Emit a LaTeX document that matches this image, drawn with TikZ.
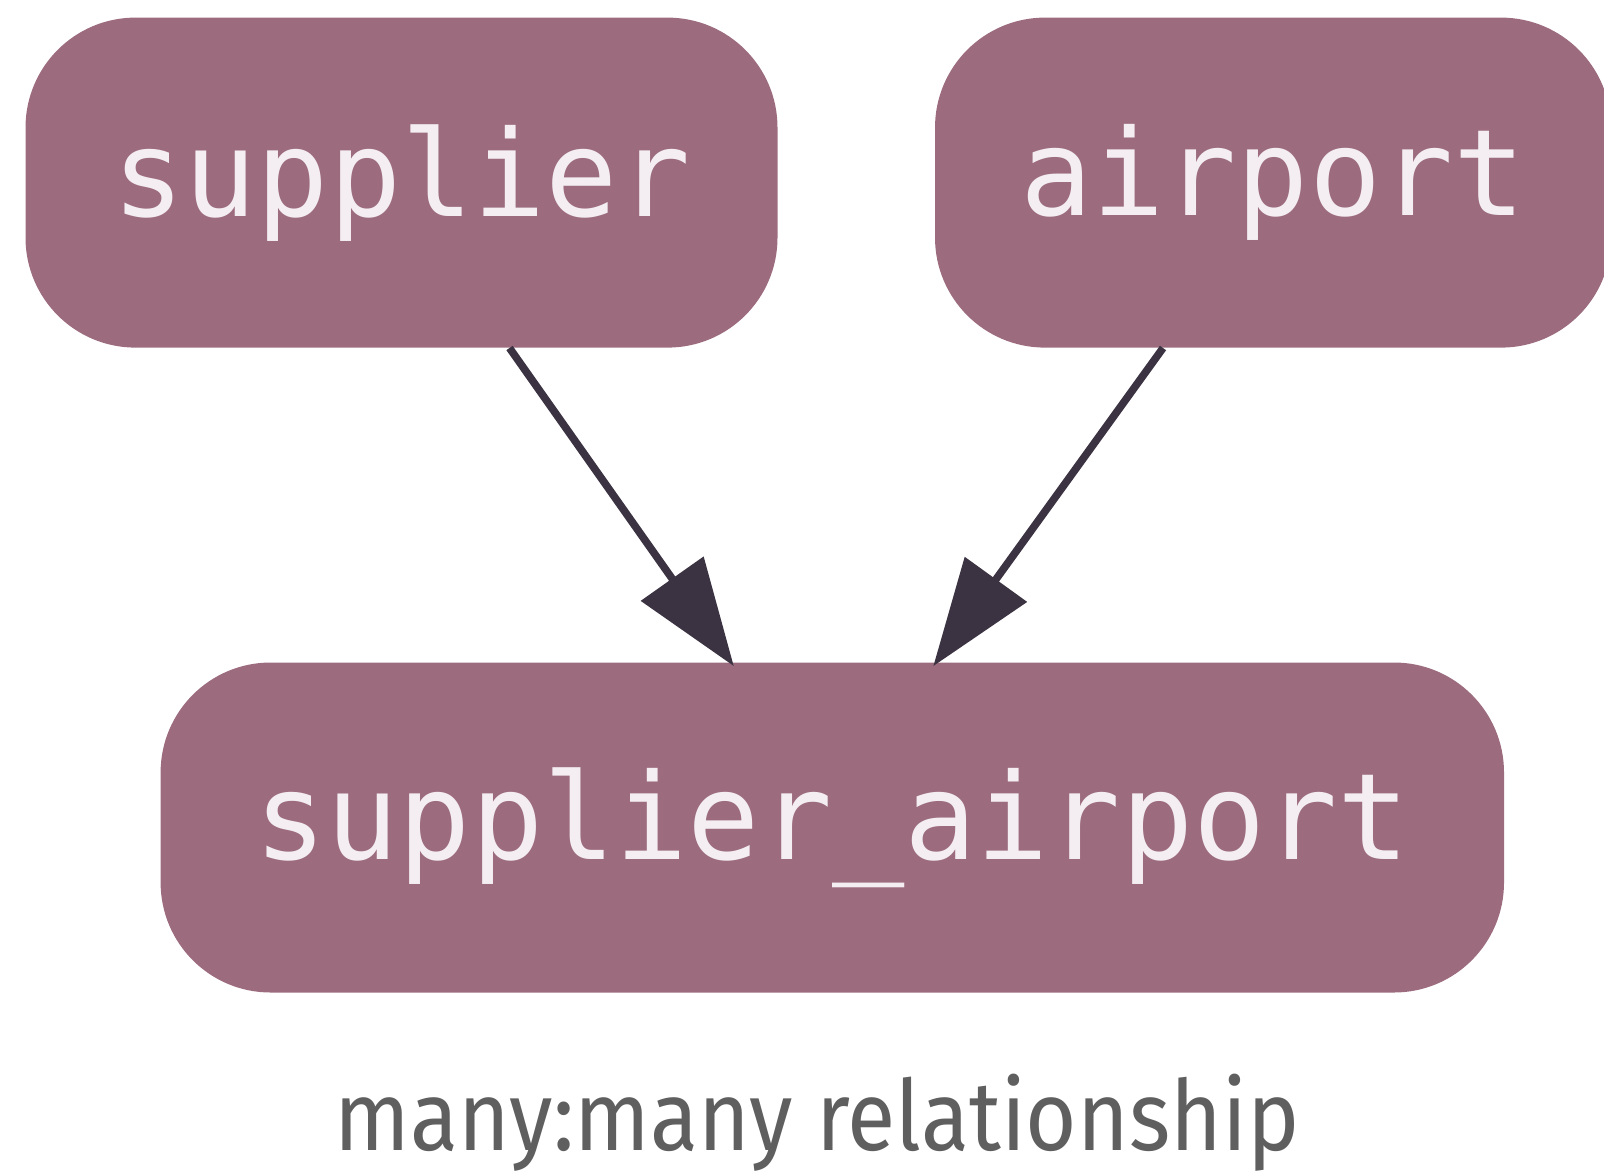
\documentclass[tikz,border=0pt]{standalone}
\usepackage{fontspec}
\usepackage{graphicx}
\usetikzlibrary{arrows.meta}
\newfontfamily\tablefont{DejaVu Sans Mono}
\newfontfamily\captionfont{Fira Sans}
\definecolor{tablefill}{HTML}{9C6B7E}
\definecolor{tabletext}{HTML}{F4EEF2}
\definecolor{edgecolor}{HTML}{3B3242}
\definecolor{captioncolor}{HTML}{5F5F5F}
\begin{document}
\begin{tikzpicture}[x=0.5pt,y=-0.5pt,
    table/.style={fill=tablefill,rounded corners=55pt,inner sep=0pt,
      minimum height=165pt,text=tabletext,
      font=\tablefont\fontsize{60}{72}\selectfont},
    edge/.style={draw=edgecolor,line width=3.8pt,
      -{Triangle[length=53.5pt,width=37.5pt]}}]
  \useasboundingbox (0,0) rectangle (1604,1173);
  \path
    (401.5,182.6) node[table,minimum width=376pt] (supplier){supplier}
    (1273,182.6) node[table,minimum width=338pt] (airport){airport}
    (832.3,827.5) node[table,minimum width=671.7pt] (link){supplier\_airport};
  \node[anchor=base,text=captioncolor] (caption) at (817,1150)
    {\resizebox{482.5pt}{\height}{\captionfont\fontsize{49}{58}\selectfont many:many relationship}};
  \begin{scope}
    \draw[edge] ([xshift=54pt]supplier.south) to ([xshift=-49.25pt,yshift=-2pt]link.north);
    \draw[edge] ([xshift=-55pt]airport.south) to ([xshift=50.5pt,yshift=-2pt]link.north);
  \end{scope}
\end{tikzpicture}
\end{document}
